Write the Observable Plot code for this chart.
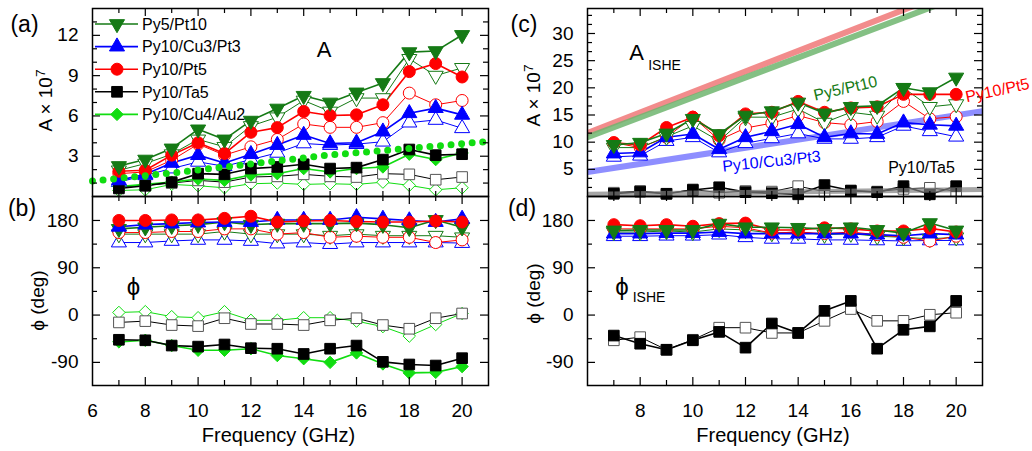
<!DOCTYPE html>
<html><head><meta charset="utf-8">
<script src="https://cdn.jsdelivr.net/npm/d3@7"></script>
<script src="https://cdn.jsdelivr.net/npm/@observablehq/plot@0.6"></script>
<style>
body{margin:0;background:#fff;}
#fig{position:relative;width:1032px;height:451px;overflow:hidden;}
</style></head><body><div id="fig"></div>
<script>
// ---------------- data ----------------
const freq = [7,8,9,10,11,12,13,14,15,16,17,18,19,20];

// (a) amplitude A (x1e7)
const aPt10  = [2.27,2.75,3.58,5.0,4.25,5.65,6.55,7.5,7.0,7.75,8.45,10.75,10.83,12.03];
const aPt10o = [1.95,2.45,3.15,4.25,3.7,5.25,5.9,7.15,6.33,7.33,7.33,10.25,9.0,9.58];
const aPt5   = [1.88,1.95,3.08,4.0,3.2,4.78,5.13,6.33,6.03,6.08,6.83,9.3,9.9,8.9];
const aPt5o  = [1.7,1.83,2.7,3.9,3.08,3.7,4.25,5.4,5.15,5.15,5.5,7.7,6.83,7.15];
const aCuPt  = [1.2,1.65,2.5,3.08,2.5,3.15,3.83,4.58,3.95,4.0,4.83,6.2,6.58,6.08];
const aCuPto = [1.07,1.58,2.08,2.58,2.25,2.75,3.25,3.95,3.83,3.9,4.08,5.5,5.7,5.08];
const aTa    = [0.6,0.8,1.07,1.7,1.65,2.08,2.2,2.4,2.08,2.15,2.75,3.5,3.08,3.15];
const aTao   = [0.7,0.83,1.0,1.2,1.07,1.45,1.5,1.65,1.5,1.45,1.7,1.65,1.25,1.45];
const aAu    = [0.75,0.9,1.07,1.3,1.2,1.6,1.7,2.08,1.83,2.08,2.2,3.15,2.75,3.25];
const aAuo   = [0.45,0.5,0.9,0.8,0.65,0.95,1.0,0.9,0.95,0.9,1.07,0.83,0.5,0.65];
const aDotF  = [6,9,11,13,15,17.5,21];
const aDotV  = [1.15,1.75,2.2,2.65,3.1,3.5,4.1];

// (b) phase (deg)
const bPt5   = [180,180,181,181,184,188,177,179,180,178,177,177,179,177];
const bCuPt  = [168,172,174,176,177,177,181,181,181,186,183,180,177,183];
const bPt10  = [164,167,170,172,177,172,174,174,174,175,172,166,181,167];
const bPt5o  = [157,157,159,159,164,164,154,157,148,150,148,148,138,143];
const bPt10o = [154,154,154,154,159,154,154,154,151,154,151,151,151,148];
const bCuPto = [138,138,141,143,143,141,136,138,135,138,138,138,138,137];
const bAuo   = [5,6.5,-3,-5,6.5,-10,-10,-5,-5,-11.5,-22,-40,-18,3];
const bTao   = [-14,-11.5,-19,-21,-6,-17,-17,-19,-10,-6,-19,-26,-6,3];
const bTa    = [-47,-48,-58,-60,-56,-63,-64,-74,-64,-58,-89,-94,-96,-82];
const bAu    = [-51,-48,-58,-67,-67,-64,-77,-83,-90,-72,-93,-110,-109,-98];

// (c) A_ISHE (x1e7)
const cPt10  = [9.5,9.9,11.6,14.3,11.5,14.9,15.7,17.3,15.3,16.5,16.7,20.0,19.2,21.9];
const cPt5   = [9.9,9.5,12.7,14.6,11.2,15.2,15.5,17.5,15.5,16.3,16.5,18.8,18.8,18.8];
const cPt10o = [9.0,9.0,11.0,13.0,10.2,14.6,14.6,16.1,13.6,15.5,14.9,20.0,16.5,17.0];
const cPt5o  = [9.9,9.0,10.9,14.6,10.4,12.6,13.5,14.9,13.6,13.2,13.8,17.5,14.3,14.7];
const cCuPt  = [7.9,8.1,10.9,11.5,8.7,10.9,12.0,13.3,10.9,11.6,11.5,13.6,13.2,13.0];
const cCuPto = [7.3,7.5,10.2,10.9,8.1,9.8,10.7,11.6,10.6,10.6,10.9,13.0,12.0,11.0];
const cTa    = [0.5,0.9,0.5,1.2,1.7,0.8,0.6,0.4,2.1,1.1,0.8,1.9,0.4,1.9];
const cTao   = [0.7,1.0,0.5,1.3,0.7,1.0,0.9,1.9,0.9,1.0,0.9,1.4,1.6,1.0];
const fitF     = [6,21];
const fitPt5   = [11.7,40.0];
const fitPt10  = [10.9,38.4];
const fitCuPt  = [4.5,15.7];
const fitTa    = [0.4,1.3];

// (d) phi_ISHE (deg)
const dPt5   = [172,170,172,169,174,175,162,162,166,164,160,160,165,158];
const dPt10  = [161,162,162,162,174,167,167,166,164,167,162,156,175,161];
const dCuPt  = [155,155,156,156,158,155,155,155,155,155,153,151,155,153];
const dPt5o  = [164,164,164,164,169,166,156,158,155,158,153,148,141,150];
const dPt10o = [158,158,160,158,164,162,156,158,153,155,150,148,145,148];
const dCuPto = [150,150,151,151,153,148,145,145,143,143,142,141,142,142];
const dTa    = [-39,-54.5,-66,-48,-32,-62,-16,-34,8,27,-64,-28,-21.5,27];
const dTao   = [-48,-42,-66,-47,-24,-24,-34,-34,-11,11.5,-11,-11,0.6,4.5];

// tick values
const xMajor = [8,10,12,14,16,18,20];
const xMinor = [7,9,11,13,15,17,19];
const xLabelsL = [6,8,10,12,14,16,18,20];
const xLabelsR = [8,10,12,14,16,18,20];
const aTicks = [3,6,9,12];
const aMinor = [1,2,4,5,7,8,10,11,13];
const phTicks = [-90,0,90,180];
const phMinor = [-45,45,135];
const cTicks = [5,10,15,20,25,30];
const cMinor = d3.range(1,35).map(i=>i*5/3).filter(v=>v<34.5 && Math.abs(v/5-Math.round(v/5))>1e-6);

const legendLabels = ["Py5/Pt10","Py10/Cu3/Pt3","Py10/Pt5","Py10/Ta5","Py10/Cu4/Au2"];

// ---------------- styles ----------------
const FONT = "'Liberation Sans', Arial, Helvetica, sans-serif";
const ST = {
  Pt10: {color:"#157a15", symbol:"triangle", rotate:180, r:5.6},
  CuPt: {color:"#0000ff", symbol:"triangle", rotate:0, r:5.6},
  Pt5:  {color:"#ff0000", symbol:"circle", rotate:0, r:6},
  Ta:   {color:"#000000", symbol:"square", rotate:0, r:6, openStroke:"#555"},
  Au:   {color:"#11dd11", symbol:"diamond2", rotate:0, r:5.6}
};
const tbl = vals => freq.map((f,i)=>({f, v: vals[i]}));
function lineMark(vals, st, filled){
  return Plot.line(tbl(vals), {x:"f", y:"v", stroke: st.color, strokeWidth: filled?1.6:1});
}
function dotMark(vals, st, filled){
  return Plot.dot(tbl(vals), {x:"f", y:"v", symbol: st.symbol, rotate: st.rotate, r: st.r,
    fill: filled ? st.color : "white", stroke: filled ? st.color : (st.openStroke || st.color), strokeWidth: 1});
}
function seriesMarks(list){ // list of [vals, st, filled]
  return [
    ...list.map(([v,s,f])=>lineMark(v,s,f)),
    ...list.filter(d=>!d[2]).map(([v,s,f])=>dotMark(v,s,f)),
    ...list.filter(d=>d[2]).map(([v,s,f])=>dotMark(v,s,f))
  ];
}
function frameTicks(yMaj, yMin, fw, fh){
  const L=8, l=5, o={stroke:"black", strokeWidth:1.2};
  return [
    Plot.tickX(xMajor, {x:d=>d, insetTop: fh-L, ...o}),
    Plot.tickX(xMajor, {x:d=>d, insetBottom: fh-L, ...o}),
    Plot.tickX(xMinor, {x:d=>d, insetTop: fh-l, ...o}),
    Plot.tickX(xMinor, {x:d=>d, insetBottom: fh-l, ...o}),
    Plot.tickY(yMaj, {y:d=>d, insetRight: fw-L, ...o}),
    Plot.tickY(yMaj, {y:d=>d, insetLeft: fw-L, ...o}),
    Plot.tickY(yMin, {y:d=>d, insetRight: fw-l, ...o}),
    Plot.tickY(yMin, {y:d=>d, insetLeft: fw-l, ...o}),
    Plot.frame({stroke:"black", strokeWidth:1.5})
  ];
}
const label = (t, dx, dy, extra={}) => Plot.text([t], {text:d=>d, frameAnchor:"top-left", dx, dy,
  textAnchor:"middle", lineAnchor:"middle", fontSize:22, fill:"black", ...extra});
const ytitle = (t, dx, dy) => Plot.text([t], {text:d=>d, frameAnchor:"left", dx, dy, rotate:-90,
  textAnchor:"middle", lineAnchor:"middle", fontSize:19, fill:"black"});
const yLabels = (ticks) => Plot.axisY({ticks, anchor:"left", tickSize:0, tickPadding:14,
  tickFormat:d=>String(d), fontSize:19, label:null});
const xLabels = (ticks) => [
  Plot.axisX({ticks, anchor:"bottom", tickSize:0, tickPadding:18, tickFormat:d=>String(d), fontSize:19, label:null}),
  Plot.text(["Frequency (GHz)"], {text:d=>d, frameAnchor:"bottom", dx:-12, dy:50, textAnchor:"middle", lineAnchor:"middle", fontSize:20, fill:"black"})
];

const fig = document.getElementById("fig");
function makePlot({left, top, width, height, ml, mr, mt, mb, yDomain, marks}){
  const svg = Plot.plot({
    width, height, marginLeft:ml, marginRight:mr, marginTop:mt, marginBottom:mb,
    x:{domain:[6,21], axis:null}, y:{domain:yDomain, axis:null},
    style:{background:"transparent", overflow:"visible", fontFamily:FONT, fontSize:"19px", color:"black"},
    marks
  });
  svg.style.position="absolute"; svg.style.left=left+"px"; svg.style.top=top+"px";
  svg.style.maxWidth="none";
  fig.appendChild(svg);
  return svg;
}

// ---------------- (a) ----------------
const svgA = makePlot({left:0, top:0, width:500, height:197, ml:92, mr:12, mt:8, mb:1, yDomain:[0,14],
  marks:[
    ...seriesMarks([
      [aAuo,ST.Au,false],[aTao,ST.Ta,false],[aCuPto,ST.CuPt,false],[aPt5o,ST.Pt5,false],[aPt10o,ST.Pt10,false],
      [aAu,ST.Au,true],[aTa,ST.Ta,true],[aCuPt,ST.CuPt,true],[aPt5,ST.Pt5,true],[aPt10,ST.Pt10,true]
    ]),
    Plot.line(aDotF.map((f,i)=>({f, v:aDotV[i]})), {x:"f", y:"v", stroke:ST.Au.color, strokeWidth:7, strokeDasharray:"0 10.6", strokeLinecap:"round"}),
    ...frameTicks(aTicks, aMinor, 396, 188),
    yLabels(aTicks),
    ytitle("A × 10^7", -47, -2),
    label("(a)", -68, 16, {fontSize:23}),
    label("A", 231.5, 41.5)
  ]});

// legend in (a)
(function(){
  const keys = ["Pt10","CuPt","Pt5","Ta","Au"];
  const sym = {triangle:d3.symbolTriangle, circle:d3.symbolCircle, square:d3.symbolSquare, diamond2:d3.symbolDiamond2};
  const g = d3.select(svgA).append("g").attr("font-family", FONT).attr("text-anchor","start");
  keys.forEach((k,i)=>{
    const s = ST[k], y = 24 + i*22.6;
    g.append("line").attr("x1",95).attr("x2",138).attr("y1",y).attr("y2",y).attr("stroke",s.color).attr("stroke-width",1.6);
    g.append("path").attr("d", d3.symbol(sym[s.symbol], Math.PI*s.r*s.r)())
      .attr("transform",`translate(117,${y}) rotate(${s.rotate})`).attr("fill",s.color).attr("stroke",s.color);
    g.append("text").attr("x",142).attr("y",y).attr("dy","0.36em").attr("text-anchor","start")
      .attr("font-size",16).attr("fill","black").text(legendLabels[i]);
  });
})();

// ---------------- (b) ----------------
makePlot({left:0, top:190, width:500, height:261, ml:92, mr:12, mt:6, mb:66, yDomain:[-134,225.6],
  marks:[
    ...seriesMarks([
      [bAuo,ST.Au,false],[bTao,ST.Ta,false],[bCuPto,ST.CuPt,false],[bPt10o,ST.Pt10,false],[bPt5o,ST.Pt5,false],
      [bAu,ST.Au,true],[bTa,ST.Ta,true],[bPt10,ST.Pt10,true],[bCuPt,ST.CuPt,true],[bPt5,ST.Pt5,true]
    ]),
    ...frameTicks(phTicks, phMinor, 396, 189),
    yLabels(phTicks),
    ...xLabels(xLabelsL),
    ytitle("ϕ (deg)", -55, 9.5),
    label("(b)", -70.5, 12.5, {fontSize:23}),
    label("ϕ", 41, 91, {fontSize:24})
  ]});

// ---------------- (c) ----------------
const fitTbl = vals => fitF.map((f,i)=>({f, v: vals[i]}));
makePlot({left:500, top:0, width:532, height:197, ml:87, mr:50, mt:8, mb:1, yDomain:[0,34.6],
  marks:[
    Plot.line(fitTbl(fitPt5), {x:"f", y:"v", stroke:"#f07878", strokeOpacity:0.85, strokeWidth:6, clip:true}),
    Plot.line(fitTbl(fitPt10), {x:"f", y:"v", stroke:"#6fb56f", strokeOpacity:0.85, strokeWidth:6, clip:true}),
    Plot.line(fitTbl(fitCuPt), {x:"f", y:"v", stroke:"#7a7aff", strokeOpacity:0.85, strokeWidth:6, clip:true}),
    ...seriesMarks([
      [cTao,ST.Ta,false],[cCuPto,ST.CuPt,false],[cPt5o,ST.Pt5,false],[cPt10o,ST.Pt10,false],
      [cTa,ST.Ta,true],[cCuPt,ST.CuPt,true],[cPt5,ST.Pt5,true],[cPt10,ST.Pt10,true]
    ]),
    Plot.line(fitTbl(fitTa), {x:"f", y:"v", stroke:"#808080", strokeOpacity:0.7, strokeWidth:5, clip:true}),
    ...frameTicks(cTicks, cMinor, 395, 188),
    yLabels(cTicks),
    ytitle("A × 10^7", -54, -7),
    label("(c)", -63.5, 16, {fontSize:23}),
    label("A", 49, 44.5),
    label("ISHE", 77, 57, {fontSize:14}),
    label("Py5/Pt10", 258, 80, {fontSize:16, rotate:-13, fill:ST.Pt10.color}),
    label("Py10/Pt5", 410, 82, {fontSize:16, rotate:-12, fill:ST.Pt5.color}),
    label("Py10/Cu3/Pt3", 184, 153, {fontSize:16, rotate:-6, fill:ST.CuPt.color}),
    label("Py10/Ta5", 334, 159, {fontSize:16})
  ]});

// ---------------- (d) ----------------
makePlot({left:500, top:190, width:532, height:261, ml:87, mr:50, mt:6, mb:66, yDomain:[-134,225.6],
  marks:[
    ...seriesMarks([
      [dTao,ST.Ta,false],[dCuPto,ST.CuPt,false],[dPt10o,ST.Pt10,false],[dPt5o,ST.Pt5,false],
      [dTa,ST.Ta,true],[dCuPt,ST.CuPt,true],[dPt5,ST.Pt5,true],[dPt10,ST.Pt10,true]
    ]),
    ...frameTicks(phTicks, phMinor, 395, 189),
    yLabels(phTicks),
    ...xLabels(xLabelsR),
    ytitle("ϕ (deg)", -54, 2.5),
    label("(d)", -65.5, 12, {fontSize:23}),
    label("ϕ", 34.5, 91, {fontSize:24}),
    label("ISHE", 61.5, 101.5, {fontSize:14})
  ]});

// superscript for y titles
d3.select(fig).selectAll("text").filter(function(){return this.textContent==="A × 10^7";}).each(function(){
  const t = d3.select(this);
  t.text("A × 10");
  t.append("tspan").attr("dy","-0.45em").attr("font-size","0.72em").text("7");
});
</script></body></html>
